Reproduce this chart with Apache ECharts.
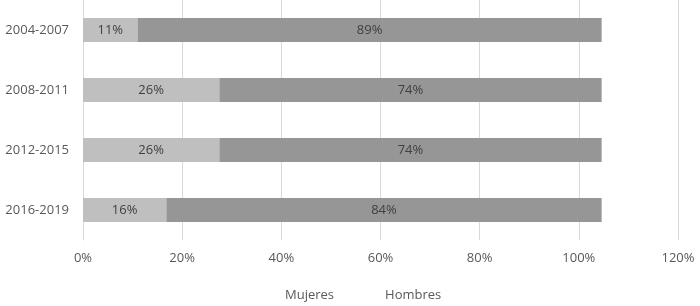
<!DOCTYPE html>
<html>
<head>
<meta charset="utf-8">
<script src="https://cdn.jsdelivr.net/npm/echarts@6/dist/echarts.min.js"></script>
<style>
  html, body { margin: 0; padding: 0; background: #fff; }
  #chart { width: 700px; height: 306px; }
</style>
</head>
<body>
<div id="chart"></div>
<script>
// periodos (de arriba abajo)
const categories = ['2004-2007', '2008-2011', '2012-2015', '2016-2019']
// longitud de las barras tal como se ven en el gráfico
const mujeres = [11, 27.5, 27.5, 16.8]
const hombres = [93.6, 77.1, 77.1, 87.8]
// etiquetas que muestra cada barra
const mujeresLabels = [11, 26, 26, 16]
const hombresLabels = [89, 74, 74, 84]
// eje x
const xMin = 0
const xMax = 120
const xStep = 20

const font = '"Open Sans", "Liberation Sans", sans-serif'
const myChart = echarts.init(document.getElementById('chart'))

myChart.setOption({
  animation: false,
  textStyle: { fontFamily: font },
  legend: {
    data: ['Mujeres', 'Hombres'],
    bottom: -1,
    left: 275,
    icon: 'none',
    itemWidth: 0,
    itemGap: 46,
    textStyle: { color: '#595959', fontSize: 13, fontFamily: font }
  },
  grid: {
    left: 83,
    right: 22,
    top: 0,
    bottom: 66,
    containLabel: false
  },
  xAxis: {
    type: 'value',
    min: xMin,
    max: xMax,
    interval: xStep,
    axisLine: { show: false },
    axisTick: { show: false },
    axisLabel: {
      formatter: '{value}%',
      color: '#595959',
      fontSize: 13,
      margin: 12,
      fontFamily: font
    },
    splitLine: { show: true, lineStyle: { color: '#d9d9d9', width: 1 } }
  },
  yAxis: {
    type: 'category',
    data: categories,
    inverse: true,
    axisLine: { show: true, lineStyle: { color: '#d9d9d9' } },
    axisTick: { show: false },
    axisLabel: {
      color: '#595959',
      fontSize: 13,
      margin: 14,
      fontFamily: font
    }
  },
  series: [
    {
      name: 'Mujeres',
      type: 'bar',
      stack: 'total',
      barWidth: 24,
      data: mujeres,
      itemStyle: { color: '#bfbfbf' },
      label: {
        show: true,
        position: 'inside',
        color: '#404040',
        fontSize: 13,
        fontFamily: font,
        formatter: p => mujeresLabels[p.dataIndex] + '%'
      }
    },
    {
      name: 'Hombres',
      type: 'bar',
      stack: 'total',
      barWidth: 24,
      data: hombres,
      itemStyle: { color: '#969696' },
      label: {
        show: true,
        position: 'inside',
        color: '#404040',
        fontSize: 13,
        fontFamily: font,
        formatter: p => hombresLabels[p.dataIndex] + '%'
      }
    }
  ]
})

window.addEventListener('resize', function () {
  myChart.resize()
})
</script>
</body>
</html>
